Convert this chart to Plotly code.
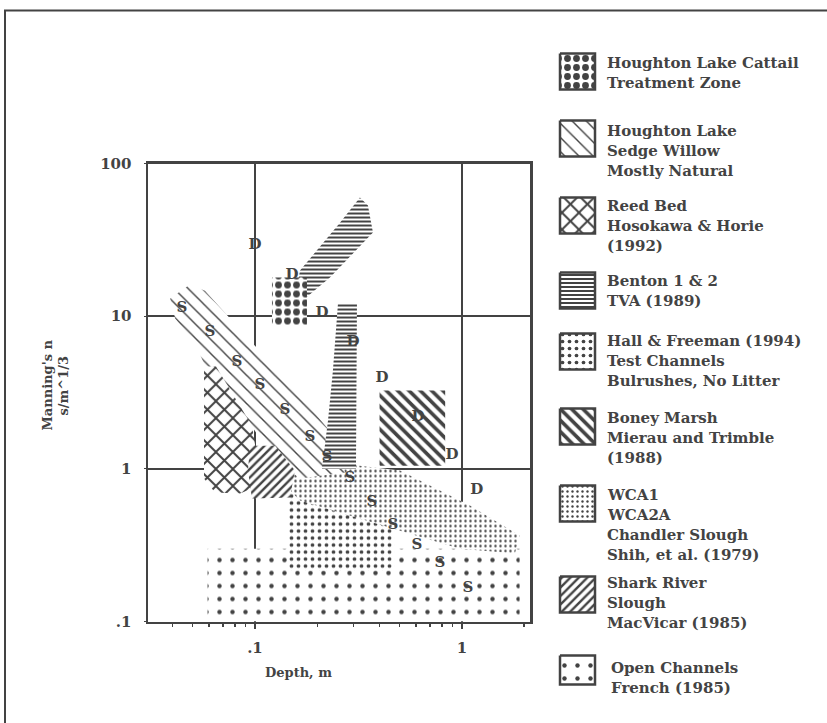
import plotly.graph_objects as go

W, H = 827, 723
INK = "#434343"
FONT = "DejaVu Serif"

# ---------------- data ----------------
x_tickvals = [0.1, 1]
x_ticktext = [".1", "1"]
y_tickvals = [0.1, 1, 10, 100]
y_ticktext = [".1", "1", "10", "100"]

open_channels_x = [0.059, 1.9, 1.9, 0.059]
open_channels_y = [0.1, 0.1, 0.30, 0.30]

hall_x = [0.143, 0.47, 0.47, 0.143]
hall_y = [0.216, 0.216, 0.80, 0.80]

wca_x = [0.1396, 0.1476, 0.2015, 0.2355, 0.5018, 1.093, 1.9, 1.803, 0.978, 0.5018, 0.165]
wca_y = [0.777, 0.975, 1.53, 1.10, 0.975, 0.575, 0.366, 0.279, 0.30, 0.394, 0.620]

shark_x = [0.0946, 0.1249, 0.156, 0.1476, 0.0967, 0.0925]
shark_y = [1.42, 1.42, 0.975, 0.649, 0.639, 0.975]

sedge_x = [0.0389, 0.0485, 0.0573, 0.0946, 0.165, 0.2518, 0.272, 0.165, 0.122, 0.0946, 0.0573, 0.0513, 0.0411]
sedge_y = [13.05, 16.1, 14.7, 6.92, 3.02, 1.53, 0.946, 0.864, 1.186, 1.98, 4.75, 6.62, 9.65]

reed_x = [0.0567, 0.0648, 0.0967, 0.1011, 0.0967, 0.0846, 0.0641, 0.0567]
reed_y = [4.68, 4.68, 1.92, 1.318, 0.743, 0.689, 0.70, 0.864]

boney_x = [0.40, 0.83, 0.83, 0.40]
boney_y = [1.05, 1.05, 3.26, 3.26]

benton_col_x = [0.2518, 0.311, 0.3076, 0.2107, 0.2253, 0.238]
benton_col_y = [12.1, 12.1, 1.0, 1.0, 2.07, 4.40]

benton_band_x = [0.1578, 0.165, 0.2574, 0.3215, 0.3514, 0.3716, 0.2303, 0.1744]
benton_band_y = [13.65, 19.9, 41.0, 59.8, 53.0, 35.3, 17.9, 13.05]

cattail_x = [0.1208, 0.1783, 0.1783, 0.1208]
cattail_y = [17.9, 17.9, 8.68, 8.68]

d_x = [0.100, 0.151, 0.2107, 0.2975, 0.411, 0.613, 0.895, 1.18]
d_y = [29.0, 18.5, 10.4, 6.72, 3.90, 2.17, 1.22, 0.721]

s_x = [0.0444, 0.0606, 0.0818, 0.1057, 0.1396, 0.1844, 0.2228, 0.2877, 0.3674, 0.464, 0.606, 0.783, 1.069]
s_y = [11.2, 7.81, 4.97, 3.51, 2.41, 1.60, 1.19, 0.864, 0.601, 0.425, 0.3145, 0.2398, 0.1644]

legend_labels = [
    ["Houghton Lake Cattail", "Treatment Zone"],
    ["Houghton Lake", "Sedge Willow", "Mostly Natural"],
    ["Reed Bed", "Hosokawa & Horie", "(1992)"],
    ["Benton 1 & 2", "TVA (1989)"],
    ["Hall & Freeman (1994)", "Test Channels", "Bulrushes, No Litter"],
    ["Boney Marsh", "Mierau and Trimble", "(1988)"],
    ["WCA1", "WCA2A", "Chandler Slough", "Shih, et al. (1979)"],
    ["Shark River", "Slough", "MacVicar (1985)"],
    ["Open Channels", "French (1985)"],
]

# ---------------- styles ----------------
PAT = {
    "cattail": dict(shape=".", size=9, solidity=0.45),
    "sedge": dict(shape="\\", size=10, solidity=0.14),
    "reed": dict(shape="x", size=12, solidity=0.3),
    "benton": dict(shape="-", size=4, solidity=0.5),
    "hall": dict(shape=".", size=7, solidity=0.22),
    "boney": dict(shape="\\", size=8, solidity=0.45),
    "wca": dict(shape=".", size=5, solidity=0.18),
    "shark": dict(shape="/", size=6, solidity=0.4),
    "open": dict(shape=".", size=13, solidity=0.09),
}
legend_keys = ["cattail", "sedge", "reed", "benton", "hall", "boney", "wca", "shark", "open"]

# vertical placement helper (screen pixel -> paper fraction)
Y_OFF, Y_SCALE = 8.5, 0.975


def py(r):
    return 1 - ((r - Y_OFF) / Y_SCALE) / H


fig = go.Figure()


def patch(x, y, key, xa="x", ya="y"):
    p = PAT[key]
    fig.add_trace(go.Scatter(
        x=x + [x[0]], y=y + [y[0]], xaxis=xa, yaxis=ya,
        mode="lines", fill="toself", line=dict(width=0, color=INK),
        fillcolor="white",
        fillpattern=dict(shape=p["shape"], size=p["size"], solidity=p["solidity"],
                         fgcolor=INK, bgcolor="white", fillmode="replace"),
        hoverinfo="skip", showlegend=False))


patch(open_channels_x, open_channels_y, "open")
patch(hall_x, hall_y, "hall")
patch(wca_x, wca_y, "wca")
patch(sedge_x, sedge_y, "sedge")
patch(reed_x, reed_y, "reed")
patch(shark_x, shark_y, "shark")
patch(boney_x, boney_y, "boney")
patch(benton_col_x, benton_col_y, "benton")
patch(benton_band_x, benton_band_y, "benton")
patch(cattail_x, cattail_y, "cattail")

label_font = dict(family=FONT, size=15, color=INK, weight="bold")
fig.add_trace(go.Scatter(x=d_x, y=d_y, mode="text", text=["D"] * len(d_x),
                         textfont=label_font, showlegend=False, hoverinfo="skip"))
fig.add_trace(go.Scatter(x=s_x, y=s_y, mode="text", text=["S"] * len(s_x),
                         textfont=label_font, showlegend=False, hoverinfo="skip"))

# ---------------- legend (drawn in screen-pixel-unit axes) ----------------
sw_left, sw_w = 560, 35
sw_tops = [53, 120, 197, 272, 333, 408, 485, 576, 655]
sw_h = [36, 36, 36, 36, 36, 36, 36, 36, 29]
text_first = [62, 130, 205, 280, 340, 417, 494, 582, 667]
text_x = [605, 605, 605, 605, 605, 605, 605, 605, 609]
pitch = 20.3

for i, key in enumerate(legend_keys):
    t, h = sw_tops[i], sw_h[i]
    p = PAT[key]
    fig.add_trace(go.Scatter(
        x=[sw_left, sw_left + sw_w, sw_left + sw_w, sw_left, sw_left],
        y=[t, t, t + h, t + h, t], xaxis="x2", yaxis="y2",
        mode="lines", fill="toself", line=dict(width=2.5, color=INK),
        fillcolor="white",
        fillpattern=dict(shape=p["shape"], size=p["size"], solidity=p["solidity"],
                         fgcolor=INK, bgcolor="white", fillmode="replace"),
        hoverinfo="skip", showlegend=False))
    for j, line in enumerate(legend_labels[i]):
        fig.add_annotation(x=text_x[i], y=text_first[i] + j * pitch, xref="x2", yref="y2",
                           text=line, showarrow=False, xanchor="left", yanchor="middle",
                           font=dict(family=FONT, size=15, color=INK, weight="bold"))

# ---------------- axes / layout ----------------
minor_x = [k * 10 ** e for e in (-2, -1, 0) for k in range(2, 10)]

axis_font = dict(family=FONT, size=15, color=INK, weight="bold")

fig.update_layout(
    width=W, height=H, margin=dict(l=0, r=0, t=0, b=0),
    paper_bgcolor="white", plot_bgcolor="white",
    showlegend=False,
    xaxis=dict(type="log", domain=[148 / W, 530 / W], range=[-1.517, 0.329],
               tickvals=x_tickvals, ticktext=x_ticktext, tickfont=axis_font,
               ticks="outside", ticklen=5, tickwidth=2, tickcolor=INK,
               minor=dict(tickvals=minor_x, ticks="outside", ticklen=3, tickwidth=1.5, tickcolor=INK, showgrid=False),
               showgrid=True, gridcolor=INK, gridwidth=2.5,
               showline=True, linecolor=INK, linewidth=2.5, mirror=True,
               zeroline=False, ticklabelstandoff=6, anchor="y"),
    yaxis=dict(type="log", domain=[py(621), py(163)], range=[-1, 2],
               tickvals=y_tickvals, ticktext=y_ticktext, tickfont=axis_font,
               ticks="outside", ticklen=2, tickwidth=1, tickcolor=INK,
               showgrid=True, gridcolor=INK, gridwidth=2.5,
               showline=True, linecolor=INK, linewidth=2.5, mirror=True,
               zeroline=False, ticklabelstandoff=9, anchor="x"),
    xaxis2=dict(domain=[545 / W, 1], range=[545, W], visible=False, anchor="y2"),
    yaxis2=dict(domain=[0, 1], range=[Y_OFF + Y_SCALE * H, Y_OFF], visible=False, anchor="x2"),
)

# axis titles
title_font = dict(family=FONT, size=13, color=INK, weight="bold")
fig.add_annotation(x=298 / W, y=py(672), xref="paper", yref="paper", text="Depth, m",
                   xanchor="center", yanchor="middle", showarrow=False, font=title_font)
fig.add_annotation(x=48 / W, y=py(385), xref="paper", yref="paper", text="Manning's n",
                   xanchor="center", yanchor="middle",
                   textangle=-90, showarrow=False, font=title_font)
fig.add_annotation(x=64 / W, y=py(385), xref="paper", yref="paper", text="s/m^1/3",
                   xanchor="center", yanchor="middle",
                   textangle=-90, showarrow=False, font=title_font)

# outer frame
fig.add_shape(type="rect", xref="paper", yref="paper", x0=5 / W, y0=-0.02, x1=1.02, y1=py(10),
              line=dict(color=INK, width=2))

fig.write_html(
    "out.html",
    config={"displayModeBar": False, "staticPlot": True},
    post_script=(
        "document.documentElement.style.margin='0';"
        "document.body.style.margin='0';document.body.style.padding='0';"
        "document.body.style.overflow='hidden';"
        "var d=document.getElementById('{plot_id}');"
        "d.style.position='fixed';d.style.top='0px';d.style.left='0px';"
    ),
)
